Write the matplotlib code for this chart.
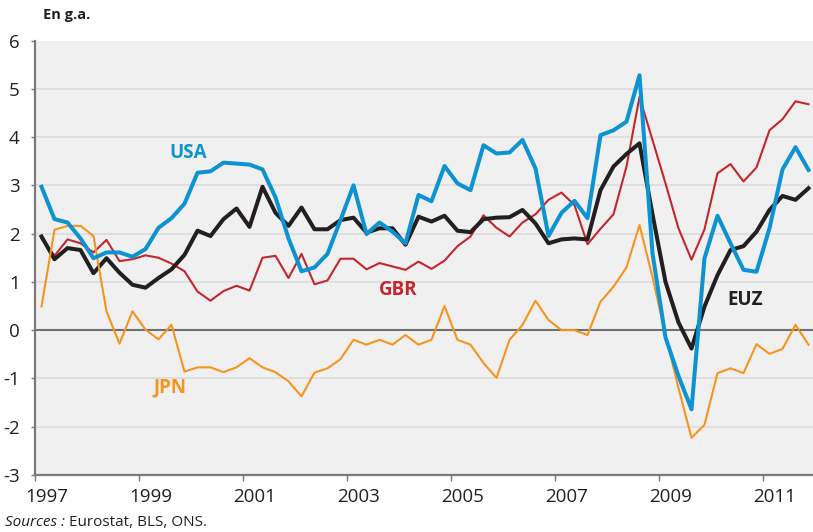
import numpy as np
import matplotlib
matplotlib.use('Agg')
import matplotlib.pyplot as plt

plt.rcParams['font.family'] = ['Open Sans', 'DejaVu Sans']
plt.rcParams['axes.unicode_minus'] = False

# quarterly data, 1997Q1 .. 2011Q4, in % y/y
quarters = 1997 + (np.arange(60) + 0.5) / 4

usa = [2.97, 2.30, 2.23, 1.90, 1.49, 1.61, 1.61, 1.52, 1.68, 2.12,
       2.32, 2.62, 3.26, 3.29, 3.47, 3.45, 3.43, 3.33, 2.75, 1.90,
       1.22, 1.30, 1.58, 2.28, 3.00, 1.99, 2.23, 2.04, 1.80, 2.80,
       2.67, 3.40, 3.04, 2.90, 3.83, 3.66, 3.68, 3.94, 3.35, 1.95,
       2.43, 2.68, 2.32, 4.04, 4.14, 4.32, 5.28, 1.59, -0.15, -0.95,
       -1.64, 1.49, 2.37, 1.80, 1.25, 1.21, 2.11, 3.33, 3.79, 3.32]

euz = [1.94, 1.47, 1.70, 1.66, 1.18, 1.49, 1.19, 0.94, 0.88, 1.08,
       1.26, 1.56, 2.06, 1.95, 2.30, 2.52, 2.14, 2.97, 2.43, 2.16,
       2.54, 2.09, 2.09, 2.28, 2.33, 2.02, 2.11, 2.11, 1.77, 2.35,
       2.25, 2.37, 2.06, 2.03, 2.30, 2.33, 2.34, 2.49, 2.21, 1.80,
       1.88, 1.90, 1.88, 2.90, 3.39, 3.65, 3.87, 2.40, 1.00, 0.16,
       -0.38, 0.49, 1.14, 1.66, 1.74, 2.04, 2.49, 2.78, 2.70, 2.94]

gbr = [1.90, 1.54, 1.88, 1.80, 1.61, 1.87, 1.43, 1.47, 1.55, 1.50,
       1.38, 1.22, 0.80, 0.61, 0.81, 0.92, 0.82, 1.50, 1.54, 1.08,
       1.58, 0.95, 1.03, 1.48, 1.48, 1.26, 1.39, 1.32, 1.25, 1.42,
       1.27, 1.44, 1.74, 1.94, 2.38, 2.12, 1.94, 2.23, 2.40, 2.70,
       2.85, 2.59, 1.78, 2.10, 2.40, 3.39, 4.83, 3.94, 3.04, 2.11,
       1.46, 2.09, 3.25, 3.44, 3.08, 3.37, 4.14, 4.37, 4.74, 4.68]

jpn = [0.49, 2.08, 2.16, 2.16, 1.95, 0.39, -0.28, 0.39, 0.01, -0.19,
       0.11, -0.86, -0.77, -0.77, -0.87, -0.77, -0.58, -0.77, -0.87, -1.06,
       -1.37, -0.88, -0.79, -0.60, -0.20, -0.30, -0.20, -0.30, -0.10, -0.30,
       -0.20, 0.50, -0.20, -0.30, -0.68, -0.99, -0.20, 0.11, 0.61, 0.21,
       0.00, 0.00, -0.10, 0.59, 0.90, 1.30, 2.18, 1.10, -0.10, -1.20,
       -2.23, -1.96, -0.89, -0.79, -0.89, -0.29, -0.49, -0.39, 0.11, -0.30]

years = [1997, 1999, 2001, 2003, 2005, 2007, 2009, 2011]

c_usa = '#0d93d2'
c_euz = '#231f20'
c_gbr = '#c4262e'
c_jpn = '#f7941d'
c_axis = '#7a7a7a'

fig = plt.figure(figsize=(8.13, 5.32), dpi=100)
ax = fig.add_axes([35 / 813, 1 - 475 / 532, 778 / 813, 434.5 / 532])
ax.set_facecolor('#f0f0f0')

ax.plot(quarters, gbr, color=c_gbr, lw=1.5, zorder=3)
ax.plot(quarters, euz, color=c_euz, lw=2.9, zorder=4)
ax.plot(quarters, jpn, color=c_jpn, lw=1.5, zorder=5)
ax.plot(quarters, usa, color=c_usa, lw=2.9, zorder=6)

ax.set_xlim(1997, 1997 + 778 / 52)
ax.set_ylim(-3, 6)

ax.set_yticks(range(-3, 7))
for v in range(-2, 6):
    if v != 0:
        ax.axhline(v, color='#dadada', lw=1.1, zorder=1)
ax.axhline(0, color='#707070', lw=1.5, zorder=2)

# ticks at odd years, labels shifted a little to the right
ax.set_xticks(years)
ax.set_xticklabels([])
ax.set_xticks([y + 0.22 for y in years], minor=True)
ax.set_xticklabels([str(y) for y in years], minor=True)
ax.tick_params(axis='x', which='major', length=4, width=1, color=c_axis)
ax.tick_params(axis='x', which='minor', length=0, pad=9, labelsize=13.5,
               labelcolor='#231f20')
ax.tick_params(axis='y', length=3, width=1, color=c_axis, pad=8,
               labelsize=13.5, labelcolor='#231f20')

for s in ['top', 'right']:
    ax.spines[s].set_visible(False)
for s in ['left', 'bottom']:
    ax.spines[s].set_color(c_axis)
    ax.spines[s].set_linewidth(1.6)

lab = dict(fontsize=13.5, fontweight='bold', ha='center', va='center')
ax.text(1999.94, 3.66, 'USA', color=c_usa, **lab)
ax.text(2003.98, 0.83, 'GBR', color=c_gbr, **lab)
ax.text(1999.6, -1.18, 'JPN', color=c_jpn, **lab)
ax.text(2010.65, 0.62, 'EUZ', color=c_euz, **lab)

fig.text(43 / 813, 1 - 15 / 532, 'En g.a.', fontsize=10.5, fontweight='bold',
         color='#231f20', va='center', ha='left')

t1 = fig.text(5 / 813, 1 - 523 / 532, 'Sources :', fontsize=11,
              style='italic', color='#231f20', va='center', ha='left')
fig.canvas.draw()
bb = t1.get_window_extent()
fig.text((bb.x1 + 4) / 813, 1 - 523 / 532, 'Eurostat, BLS, ONS.',
         fontsize=11, color='#231f20', va='center', ha='left')

fig.savefig('out.png', dpi=100)
